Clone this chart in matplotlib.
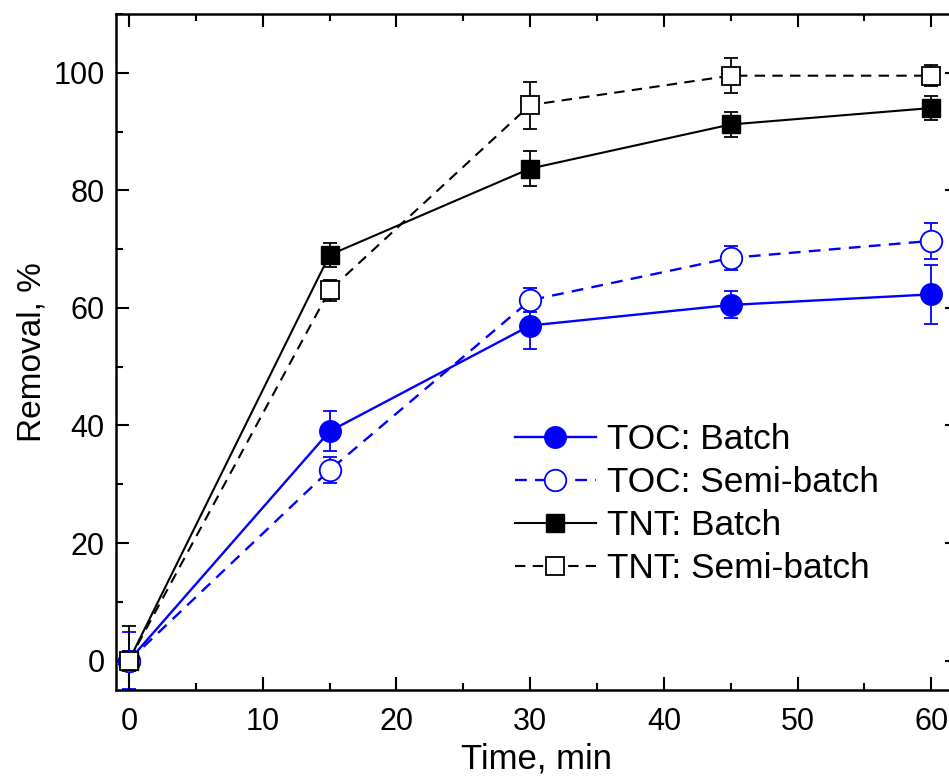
import matplotlib.pyplot as plt
from matplotlib.ticker import MultipleLocator
import numpy as np

plt.rcParams['font.family'] = ['Liberation Sans', 'DejaVu Sans']

# time points, min
t = [0, 15, 30, 45, 60]

# removal, % and error bars
toc_batch = [0, 39.0, 57.0, 60.5, 62.3]
toc_batch_err = [4.9, 3.4, 4.0, 2.3, 5.0]
toc_semi = [0, 32.4, 61.3, 68.5, 71.4]
toc_semi_err = [1.0, 2.2, 2.0, 2.0, 3.0]
tnt_batch = [0, 69.0, 83.7, 91.2, 94.0]
tnt_batch_err = [1.7, 2.0, 3.0, 2.2, 2.0]
tnt_semi = [0, 63.0, 94.5, 99.5, 99.5]
tnt_semi_err = [5.9, 1.8, 4.0, 3.0, 1.8]

blue = '#0000ff'
dash = (0, (5, 3.5))

fig = plt.figure(figsize=(9.49, 7.8), dpi=100)
ax = fig.add_axes([0.1218, 0.1154, 0.8877, 0.8667])

common = dict(capsize=5, capthick=1.3, elinewidth=1.3)

c1 = ax.errorbar(t, toc_batch, yerr=toc_batch_err, color=blue, marker='o', ms=15.5,
                 mfc=blue, mec=blue, ls='-', lw=1.7, label='TOC: Batch', **common)
c2 = ax.errorbar(t, toc_semi, yerr=toc_semi_err, color=blue, marker='o', ms=15.5,
                 mfc='white', mec=blue, mew=1.3, ls=dash, lw=1.7,
                 label='TOC: Semi-batch', **common)
c3 = ax.errorbar(t, tnt_batch, yerr=tnt_batch_err, color='black', marker='s', ms=13.5,
                 mfc='black', mec='black', ls='-', lw=1.5, label='TNT: Batch', **common)
c4 = ax.errorbar(t, tnt_semi, yerr=tnt_semi_err, color='black', marker='s', ms=13.5,
                 mfc='white', mec='black', mew=1.3, ls=dash, lw=1.5,
                 label='TNT: Semi-batch', **common)

ax.set_xlim(-1, 62)
ax.set_ylim(-5, 110)
ax.xaxis.set_major_locator(MultipleLocator(10))
ax.xaxis.set_minor_locator(MultipleLocator(5))
ax.yaxis.set_major_locator(MultipleLocator(20))
ax.yaxis.set_minor_locator(MultipleLocator(10))

ax.tick_params(which='both', direction='in', top=True, right=True, width=1.5,
               labelsize=22)
ax.tick_params(axis='x', pad=12)
ax.tick_params(axis='y', pad=8)
ax.tick_params(which='major', length=9.5)
ax.tick_params(which='minor', length=5)
for s in ax.spines.values():
    s.set_linewidth(1.8)

ax.set_xlabel('Time, min', fontsize=25, labelpad=4)
ax.set_ylabel('Removal, %', fontsize=24, labelpad=4)

handles = [c[0] for c in (c1, c2, c3, c4)]
labels = ['TOC: Batch', 'TOC: Semi-batch', 'TNT: Batch', 'TNT: Semi-batch']
leg = ax.legend(handles, labels, loc='center left', bbox_to_anchor=(0.474, 0.275),
                frameon=False, fontsize=25.4, numpoints=1, handlelength=2.3,
                handletextpad=0.3, borderpad=0, borderaxespad=0, labelspacing=0.28)

fig.savefig('out.png', dpi=100)
